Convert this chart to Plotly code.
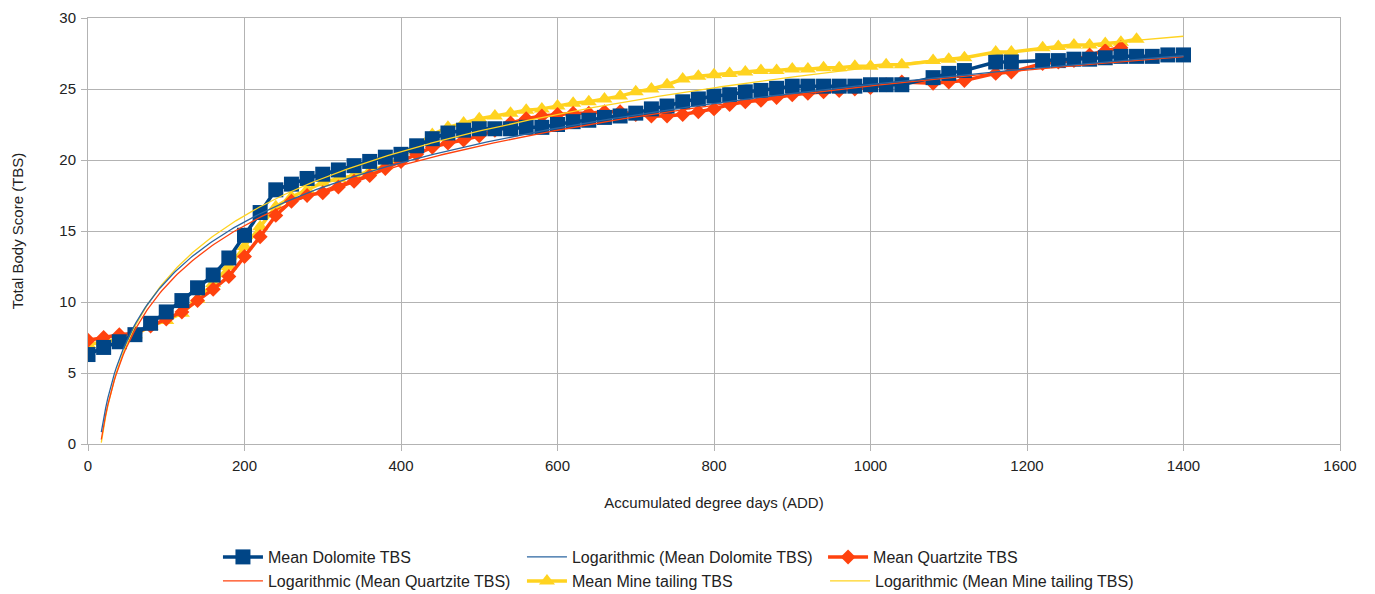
import numpy as np
import plotly.graph_objects as go

# ---- data ----
add_dolomite = [0, 20, 40, 60, 80, 100, 120, 140, 160, 180, 200, 220, 240, 260, 280, 300,
                320, 340, 360, 380, 400, 420, 440, 460, 480, 500, 520, 540, 560, 580, 600,
                620, 640, 660, 680, 700, 720, 740, 760, 780, 800, 820, 840, 860, 880, 900,
                920, 940, 960, 980, 1000, 1020, 1040, 1080, 1100, 1120, 1160, 1180, 1220,
                1240, 1260, 1280, 1300, 1320, 1340, 1360, 1380, 1400]
tbs_dolomite = [6.3, 6.8, 7.2, 7.7, 8.5, 9.3, 10.1, 11.0, 11.9, 13.1, 14.7, 16.3, 17.9, 18.3,
                18.7, 19.0, 19.3, 19.6, 19.9, 20.2, 20.4, 21.0, 21.5, 21.9, 22.1, 22.2, 22.2,
                22.2, 22.3, 22.3, 22.5, 22.7, 22.8, 23.0, 23.1, 23.3, 23.6, 23.8, 24.1, 24.3,
                24.5, 24.6, 24.8, 24.9, 25.05, 25.2, 25.2, 25.2, 25.2, 25.2, 25.3, 25.3, 25.3,
                25.8, 26.1, 26.3, 26.9, 26.9, 27.0, 27.0, 27.1, 27.1, 27.2, 27.3, 27.3, 27.3,
                27.4, 27.4]

add_quartzite = [0, 20, 40, 60, 80, 100, 120, 140, 160, 180, 200, 220, 240, 260, 280, 300,
                 320, 340, 360, 380, 400, 420, 440, 460, 480, 500, 520, 540, 560, 580, 600,
                 620, 640, 660, 680, 700, 720, 740, 760, 780, 800, 820, 840, 860, 880, 900,
                 920, 940, 960, 980, 1000, 1020, 1040, 1080, 1100, 1120, 1160, 1180, 1220,
                 1240, 1260, 1280, 1300, 1320]
tbs_quartzite = [7.3, 7.5, 7.7, 7.8, 8.3, 8.8, 9.3, 10.1, 10.9, 11.8, 13.2, 14.6, 16.1, 17.1,
                 17.5, 17.7, 18.1, 18.5, 18.9, 19.4, 19.9, 20.4, 20.9, 21.2, 21.4, 21.7, 22.1,
                 22.6, 22.9, 23.1, 23.2, 23.3, 23.3, 23.4, 23.4, 23.2, 23.1, 23.1, 23.2, 23.4,
                 23.6, 23.9, 24.1, 24.2, 24.4, 24.6, 24.7, 24.8, 24.9, 25.0, 25.1, 25.3, 25.5,
                 25.4, 25.5, 25.6, 26.1, 26.2, 26.8, 26.9, 27.0, 27.4, 27.7, 27.9]

add_mine = [0, 20, 40, 60, 80, 100, 120, 140, 160, 180, 200, 220, 240, 260, 280, 300,
            320, 340, 360, 380, 400, 420, 440, 460, 480, 500, 520, 540, 560, 580, 600,
            620, 640, 660, 680, 700, 720, 740, 760, 780, 800, 820, 840, 860, 880, 900,
            920, 940, 960, 980, 1000, 1020, 1040, 1080, 1100, 1120, 1160, 1180, 1220,
            1240, 1260, 1280, 1300, 1320, 1340]
tbs_mine = [7.0, 7.2, 7.4, 7.7, 8.3, 8.7, 9.2, 10.2, 11.3, 12.5, 13.9, 15.3, 16.7, 17.4,
            17.9, 18.4, 18.7, 18.9, 19.2, 19.6, 20.2, 21.0, 21.8, 22.3, 22.6, 22.9, 23.1,
            23.3, 23.5, 23.6, 23.8, 24.0, 24.1, 24.3, 24.5, 24.8, 25.0, 25.3, 25.7, 25.9,
            26.0, 26.1, 26.2, 26.3, 26.3, 26.4, 26.4, 26.5, 26.5, 26.6, 26.6, 26.7, 26.7,
            27.0, 27.1, 27.2, 27.6, 27.6, 27.9, 28.0, 28.1, 28.1, 28.2, 28.3, 28.5]

# points
trend_add = [17, 33, 200, 1400]
trend_dolomite = [0.75, 5.0, 15.5, 27.4]
trend_quartzite = [0.1, 4.8, 15.05, 27.4]
trend_mine = [0.1, 4.7, 15.5, 29.0]

x_ticks = [0, 200, 400, 600, 800, 1000, 1200, 1400, 1600]
y_ticks = [0, 5, 10, 15, 20, 25, 30]

C_DOL = "#004586"
C_QTZ = "#ff420e"
C_MIN = "#ffd320"
GRID = "#b3b3b3"
FONT = "Liberation Sans, Arial, sans-serif"

W, H = 1367, 586   # page body has an 8px margin


def log_curve(ty):
    u = np.log(np.asarray(trend_add, float))
    a, b = np.polyfit(u, np.asarray(ty, float), 1)
    xx = np.linspace(trend_add[0], trend_add[-1], 500)
    return xx, a * np.log(xx) + b


fig = go.Figure()

series = [
    ("Mean Mine tailing TBS", add_mine, tbs_mine, C_MIN, "triangle-up", 14, "legend2", 2),
    ("Mean Quartzite TBS", add_quartzite, tbs_quartzite, C_QTZ, "diamond", 11.5, "legend3", 1),
    ("Mean Dolomite TBS", add_dolomite, tbs_dolomite, C_DOL, "square", 15, "legend", 1),
]
for name, xs, ys, col, sym, sz, lg, rank in series:
    fig.add_trace(go.Scatter(
        x=xs, y=ys, name=name, mode="lines+markers",
        line=dict(color=col, width=3.5),
        marker=dict(symbol=sym, size=sz, color=col, line=dict(width=0)),
        legend=lg, legendrank=rank,
    ))

trends = [
    ("Logarithmic (Mean Mine tailing TBS)", trend_mine, C_MIN, "legend4", 1),
    ("Logarithmic (Mean Quartzite TBS)", trend_quartzite, C_QTZ, "legend2", 1),
    ("Logarithmic (Mean Dolomite TBS)", trend_dolomite, "#2a65a0", "legend", 2),
]
for name, ty, col, lg, rank in trends:
    xx, yy = log_curve(ty)
    fig.add_trace(go.Scatter(
        x=xx, y=yy, name=name, mode="lines",
        line=dict(color=col, width=1.3),
        legend=lg, legendrank=rank,
    ))

axis_common = dict(
    showline=True, linecolor=GRID, linewidth=1, mirror=True,
    showgrid=True, gridcolor=GRID, gridwidth=1,
    ticks="outside", tickcolor=GRID, ticklen=6,
    zeroline=False, automargin=False,
    tickfont=dict(family=FONT, size=15, color="#222"),
)

legend_common = dict(
    orientation="h", xanchor="left", yref="container", yanchor="top",
    font=dict(family=FONT, size=16, color="#222"),
    itemwidth=40, tracegroupgap=0, bgcolor="rgba(0,0,0,0)",
)

fig.update_layout(
    width=W, height=H,
    paper_bgcolor="white", plot_bgcolor="white",
    margin=dict(l=80, r=35, t=10, b=150),
    font=dict(family=FONT, size=15, color="#222"),
    xaxis=dict(range=[0, 1600], tickvals=x_ticks, ticklabelstandoff=2,
               title=dict(text="Accumulated degree days (ADD)", font=dict(size=15), standoff=24),
               **axis_common),
    yaxis=dict(range=[0, 30], tickvals=y_ticks, ticklabelstandoff=2,
               title=dict(text="Total Body Score (TBS)", font=dict(size=15), standoff=32),
               **axis_common),
    legend=dict(x=0.1038, y=1 - 532 / H, entrywidth=249, entrywidthmode="pixels",
                **legend_common),
    legend2=dict(x=0.1038, y=1 - 556 / H, entrywidth=249, entrywidthmode="pixels",
                 **legend_common),
    legend3=dict(x=0.5871, y=1 - 532 / H, **legend_common),
    legend4=dict(x=0.5887, y=1 - 556 / H, **legend_common),
    showlegend=True,
)

fig.write_html("out.html")
